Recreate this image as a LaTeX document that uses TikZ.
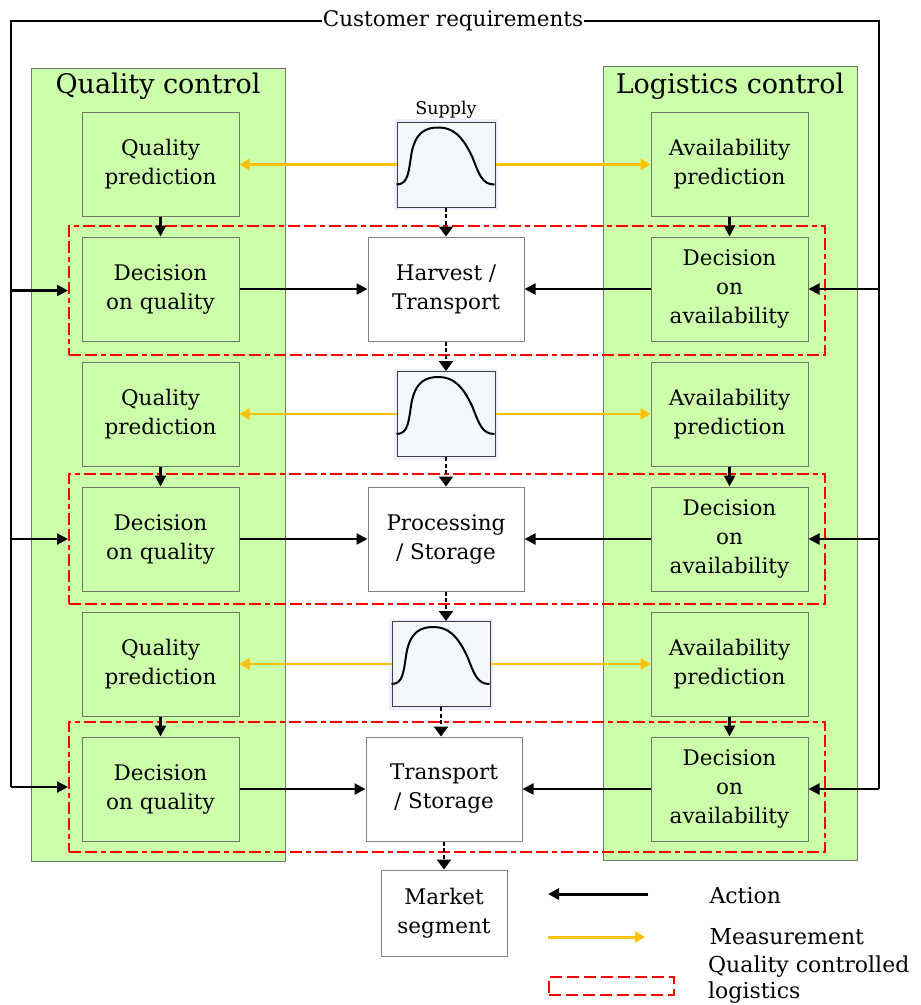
\documentclass[tikz,border=0pt]{standalone}
\usepackage{fontspec}
\setmainfont{DejaVu Serif}
\usetikzlibrary{arrows.meta}
\definecolor{pgreen}{RGB}{204,255,170}
\definecolor{gold}{RGB}{255,192,0}
\definecolor{edgegray}{RGB}{110,120,100}
\definecolor{cfill}{RGB}{244,247,252}
\newcommand\bxfont{\fontsize{21.5}{29}\selectfont}
\newcommand\ttlfont{\fontsize{27}{32}\selectfont}
\newcommand\crfont{\fontsize{21.5}{26}\selectfont}
\newcommand\supfont{\fontsize{17.5}{20}\selectfont}
\newcommand\lgfont{\fontsize{22}{26}\selectfont}
\newcommand\bellcurve[1]{%
  \begin{scope}[shift={(#1.north west)}]
    \draw[line width=2pt] (0,63) .. controls (12,63) and (12,50) .. (15,32)
      .. controls (19,10) and (30,6) .. (42,6)
      .. controls (56,6) and (66,14) .. (76,36)
      .. controls (83,54) and (86,63) .. (98,63);
  \end{scope}}
\begin{document}
\begin{tikzpicture}[x=1pt,y=-1pt,
  panel/.style={draw=edgegray, fill=pgreen, line width=1pt, inner sep=0pt},
  gbox/.style={draw=edgegray, fill=pgreen, line width=1pt, minimum width=157pt, minimum height=104pt, align=center, inner sep=0pt, font=\bxfont},
  wbox/.style={draw=gray, fill=white, line width=1pt, minimum width=156pt, minimum height=104pt, align=center, inner sep=0pt, font=\bxfont},
  cbox/.style={draw=black!75, fill=cfill, line width=1pt, minimum width=98pt, minimum height=85pt, inner sep=0pt, preaction={draw=blue!7, line width=6pt}},
  qcl/.style={draw=red, line width=2pt, dash pattern=on 12pt off 4pt on 12pt off 4pt on 5pt off 4pt, inner sep=0pt},
  act/.style={line width=2.2pt, -{Triangle[length=11pt,width=11pt]}},
  meas/.style={draw=gold, line width=2.6pt, -{Triangle[length=10pt,width=11pt]}},
  flow/.style={line width=2.4pt, dash pattern=on 4pt off 2.5pt, -{Triangle[length=10pt,width=14pt]}},
  fb/.style={line width=1.8pt},
]
\useasboundingbox (0,0) rectangle (921,1005);

% panels
\node[panel, anchor=north west, minimum width=254pt, minimum height=793pt] (qc) at (31,68) {};
\node[panel, anchor=north west, minimum width=254pt, minimum height=794pt] (lc) at (603,66) {};
\node[font=\ttlfont] (qct) at (158,86) {Quality control};
\node[font=\ttlfont] (lct) at (730,86) {Logistics control};

% quality controlled logistics frames
\node[qcl, anchor=north west, minimum width=756pt, minimum height=129pt] (q1) at (68,225) {};
\node[qcl, anchor=north west, minimum width=756pt, minimum height=130pt] (q2) at (68,473) {};
\node[qcl, anchor=north west, minimum width=756pt, minimum height=130pt] (q3) at (68,721) {};

% left boxes
\node[gbox] (qp1) at (160.5,164) {Quality\\prediction};
\node[gbox] (dq1) at (160.5,289) {Decision\\on quality};
\node[gbox] (qp2) at (160.5,414) {Quality\\prediction};
\node[gbox] (dq2) at (160.5,539) {Decision\\on quality};
\node[gbox] (qp3) at (160.5,664) {Quality\\prediction};
\node[gbox] (dq3) at (160.5,789) {Decision\\on quality};
% right boxes
\node[gbox] (ap1) at (729.5,164) {Availability\\prediction};
\node[gbox] (da1) at (729.5,289) {Decision\\on\\availability};
\node[gbox] (ap2) at (729.5,414) {Availability\\prediction};
\node[gbox] (da2) at (729.5,539) {Decision\\on\\availability};
\node[gbox] (ap3) at (729.5,664) {Availability\\prediction};
\node[gbox] (da3) at (729.5,789) {Decision\\on\\availability};
% center boxes
\node[wbox] (h1) at (446,289) {Harvest /\\Transport};
\node[wbox] (h2) at (446,539) {Processing\\/ Storage};
\node[wbox] (h3) at (444,789) {Transport\\/ Storage};
\node[wbox, minimum width=126pt, minimum height=86pt] (mk) at (444,913) {Market\\segment};
% curve boxes
\node[cbox] (c1) at (446,164.5) {};
\node[cbox] (c2) at (446,414) {};
\node[cbox] (c3) at (441,664) {};
\bellcurve{c1}
\bellcurve{c2}
\bellcurve{c3}
\node[font=\supfont] (sup) at (446,110) {Supply};

% measurement arrows
\foreach \c/\q/\a in {c1/qp1/ap1, c2/qp2/ap2, c3/qp3/ap3}{
  \draw[meas] (\c.west) -- (\c.west -| \q.east);
  \draw[meas] (\c.east) -- (\c.east -| \a.west);
}
% action arrows
\foreach \qp/\dq/\ap/\da/\h in {qp1/dq1/ap1/da1/h1, qp2/dq2/ap2/da2/h2, qp3/dq3/ap3/da3/h3}{
  \draw[act] (\qp) -- (\dq);
  \draw[act] (\ap) -- (\da);
  \draw[act] (\dq) -- (\h);
  \draw[act] (\da) -- (\h);
}
% material flow
\draw[flow] (c1.south) -- (h1.north);
\draw[flow] (h1.south) -- (c2.north);
\draw[flow] (c2.south) -- (h2.north);
\draw[flow] (h2.south) -- (h2.south |- c3.north);
\draw[flow] (c3.south) -- (c3.south |- h3.north);
\draw[flow] (h3.south) -- (mk.north);

% customer requirements feedback
\coordinate (tl) at (11,21);
\coordinate (tr) at (879,21);
\draw[fb] (tl |- q3.west) -- (tl) -- (tr) -- (tr |- da3.east);
\node[fill=white, inner sep=1pt, font=\crfont] (cr) at (453,21) {Customer requirements};
\foreach \q in {q1,q2,q3}{\draw[act] (tl |- \q.west) -- (\q.west);}
\foreach \d in {da1,da2,da3}{\draw[act] (tr |- \d.east) -- (\d.east);}

% legend
\coordinate (la1) at (648,894);
\coordinate (la2) at (548,894);
\draw[act, line width=3pt] (la1) -- (la2);
\node[font=\lgfont, anchor=west] (lt1) at (706,896) {Action};
\coordinate (lm1) at (548,937);
\coordinate (lm2) at (645,937);
\draw[meas, line width=3pt] (lm1) -- (lm2);
\node[font=\lgfont, anchor=west] (lt2) at (706,937) {Measurement};
\node[qcl, line width=2.4pt, dash pattern=on 12pt off 5pt, anchor=north west, minimum width=125pt, minimum height=18pt] (lq) at (548,976) {};
\node[font=\lgfont, anchor=north west, align=left, inner sep=0pt] (lt3) at (708,956) {Quality controlled\\logistics};
\end{tikzpicture}
\end{document}
